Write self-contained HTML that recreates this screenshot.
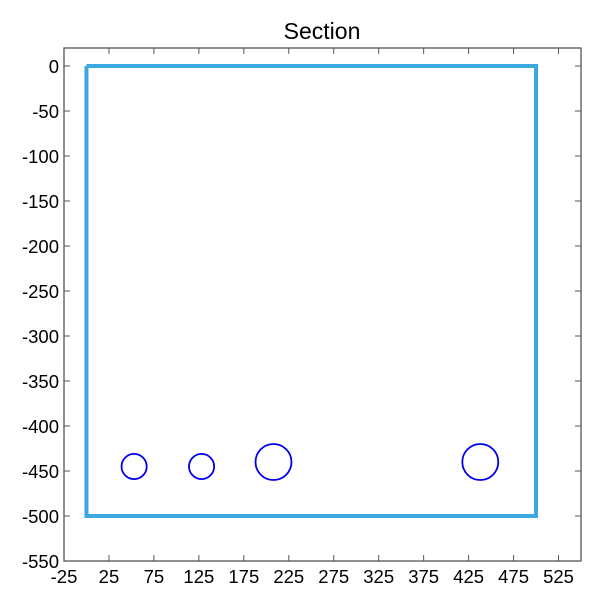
<!DOCTYPE html>
<html><head><meta charset="utf-8"><style>
body{margin:0;background:#fff}
svg{display:block;font-family:"Liberation Sans",Arial,sans-serif}
</style></head><body>
<svg id="chart" width="600" height="600"></svg>
<script>
const xTicks=[-25,25,75,125,175,225,275,325,375,425,475,525];
const yTicks=[0,-50,-100,-150,-200,-250,-300,-350,-400,-450,-500,-550];
const sectionX=[0,500,500,0,0];
const sectionY=[0,0,-500,-500,0];
const barX=[53,128,208,438];
const barY=[-445,-445,-440,-440];
const barR=[14,14,20,20];
const L=64,R=581,T=48,B=561;
const xMin=-25,xMax=550,yMin=-550,yMax=20;
const sx=v=>L+(v-xMin)/(xMax-xMin)*(R-L);
const sy=v=>B-(v-yMin)/(yMax-yMin)*(B-T);
const ns="http://www.w3.org/2000/svg",svg=document.getElementById('chart');
function mk(t,a){const e=document.createElementNS(ns,t);for(const k in a)e.setAttribute(k,a[k]);svg.appendChild(e);return e;}
let e=mk('text',{x:322,y:39,'text-anchor':'middle','font-size':23,fill:'#000'});e.textContent='Section';


e=mk('rect',{x:L,y:T,width:R-L,height:B-T,fill:'none',stroke:'#555','stroke-width':1.3});


xTicks.forEach(v=>{const x=sx(v);
 mk('line',{x1:x,x2:x,y1:B,y2:B-6,stroke:'#555'});mk('line',{x1:x,x2:x,y1:T,y2:T+6,stroke:'#555'});
 const t=mk('text',{x:x,y:B+22,'text-anchor':'middle','font-size':18.5,fill:'#000'});t.textContent=v;
 
 });
yTicks.forEach(v=>{const y=sy(v);
 mk('line',{x1:L,x2:L+6,y1:y,y2:y,stroke:'#555'});mk('line',{x1:R,x2:R-6,y1:y,y2:y,stroke:'#555'});
 const t=mk('text',{x:L-5,y:y+7,'text-anchor':'end','font-size':18.5,fill:'#000'});t.textContent=v;
 
 });
e=mk('polyline',{points:sectionX.map((x,i)=>sx(x)+','+sy(sectionY[i])).join(' '),fill:'none',stroke:'#3ba9e0','stroke-width':4});


const k=(R-L)/(xMax-xMin);
barX.forEach((x,i)=>{const c=mk('circle',{cx:sx(x),cy:sy(barY[i]),r:barR[i]*k,fill:'none',stroke:'#0000ee','stroke-width':1.8});
 
 });
</script>
</body></html>
